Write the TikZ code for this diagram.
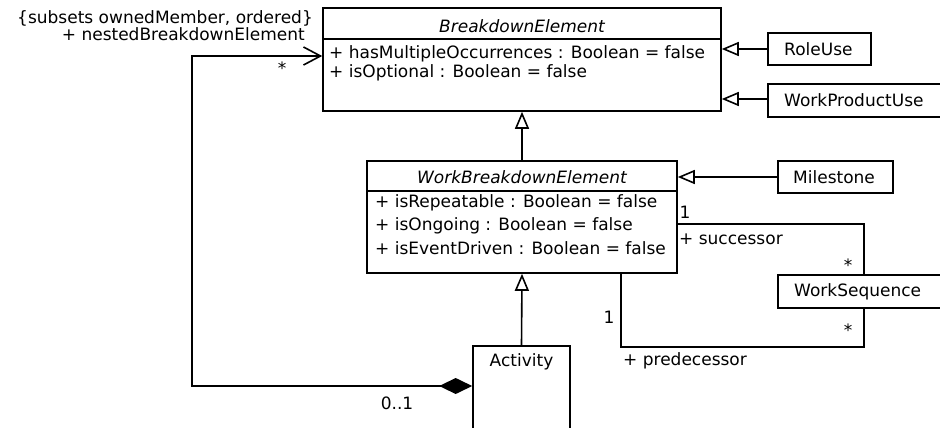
\documentclass[tikz,border=0pt]{standalone}
\usepackage{fontspec}
\setmainfont{DejaVu Sans}
\usetikzlibrary{arrows.meta}
\usetikzlibrary{calc,positioning}

\tikzset{
  umlbox/.style={draw=black, line width=1.6pt, fill=white, inner sep=0pt},
  umltxt/.style={inner sep=0pt, font=\fontsize{17}{20}\selectfont, text=black},
  gen/.style={line width=1.6pt, -{Triangle[open, length=17pt, width=14pt, fill=white]}},
  assoc/.style={line width=1.6pt},
}

\begin{document}
\begin{tikzpicture}[x=1pt,y=-1pt]
  \useasboundingbox (0,0) rectangle (940,428);

  %% class boxes
  \node[umlbox, minimum width=398pt, minimum height=103pt] (be) at (522,59.5) {};
  \node[umlbox, minimum width=310pt, minimum height=112pt] (wbe) at (522,217) {};
  \node[umlbox, minimum width=103pt, minimum height=32pt] (roleuse) at (819.5,49) {};
  \node[umlbox, minimum width=175pt, minimum height=33pt] (wpu) at (855.5,100.5) {};
  \node[umlbox, minimum width=115pt, minimum height=32pt] (milestone) at (835.5,177) {};
  \node[umlbox, minimum width=165pt, minimum height=33pt] (wseq) at (860.5,291.5) {};
  \node[umlbox, minimum width=97pt, minimum height=94pt] (activity) at (521.5,393) {};

  %% compartment lines
  \draw[line width=1.6pt] (be.north west) ++(0,32) -- ++(398,0);
  \draw[line width=1.6pt] (wbe.north west) ++(0,31) -- ++(310,0);

  %% names
  \node[umltxt, font=\fontsize{17}{20}\selectfont\itshape] at (522,26) {BreakdownElement};
  \node[umltxt, font=\fontsize{17}{20}\selectfont\itshape] at (522,177) {WorkBreakdownElement};
  \node[umltxt, anchor=west] at (784,49) {RoleUse};
  \node[umltxt, anchor=west] at (784,100.5) {WorkProductUse};
  \node[umltxt, anchor=west] at (793,177) {Milestone};
  \node[umltxt, anchor=west] at (794,291.5) {WorkSequence};
  \node[umltxt] at (521.5,362) {Activity};

  %% attributes
  \node[umltxt, anchor=west] at (329,54) {+ hasMultipleOccurrences : Boolean = false};
  \node[umltxt, anchor=west] at (329,73) {+ isOptional : Boolean = false};
  \foreach \y/\t in {203/isRepeatable, 226/isOngoing, 248/isEventDriven}
    \node[umltxt, anchor=west] at (375,\y) {+ \t{} : Boolean = false};

  %% generalizations
  \draw[gen] (roleuse.west) -- (roleuse.west -| be.east);
  \draw[gen] (wpu.west |- 0,99) -- (be.east |- 0,99);
  \draw[gen] (milestone.west) -- (milestone.west -| wbe.east);
  \draw[gen] (wbe.north) -- (be.south);
  \draw[gen] (activity.north) -- (wbe.south);

  %% work sequence associations
  \coordinate (succ) at (864,224);
  \coordinate (pred) at (621,347);
  \draw[assoc] (wbe.east |- succ) -- (succ) -- (succ |- wseq.north);
  \draw[assoc] (pred |- wbe.south) -- (pred) -- (pred -| succ) -- (succ |- wseq.south);
  \node[umltxt] at (685,212) {1};
  \node[umltxt, anchor=west] at (679,239) {+ successor};
  \node[umltxt] at (848,265) {*};
  \node[umltxt] at (609,317) {1};
  \node[umltxt, anchor=west] at (623,361) {+ predecessor};
  \node[umltxt] at (848,330) {*};

  %% nested breakdown elements
  \coordinate (nestlow) at (192,386);
  \coordinate (nesttop) at (192,56);
  \draw[assoc, {Diamond[length=33pt, width=16pt]}-{Straight Barb[length=17pt, width=18pt]}]
    (activity.west |- nestlow) -- (nestlow) -- (nesttop) -- (nesttop -| be.west);
  \node[umltxt, anchor=east] at (313,18) {\{subsets ownedMember, ordered\}};
  \node[umltxt, anchor=east] at (305,34) {+ nestedBreakdownElement};
  \node[umltxt] at (282,68) {*};
  \node[umltxt] at (397,403) {0..1};
\end{tikzpicture}
\end{document}
